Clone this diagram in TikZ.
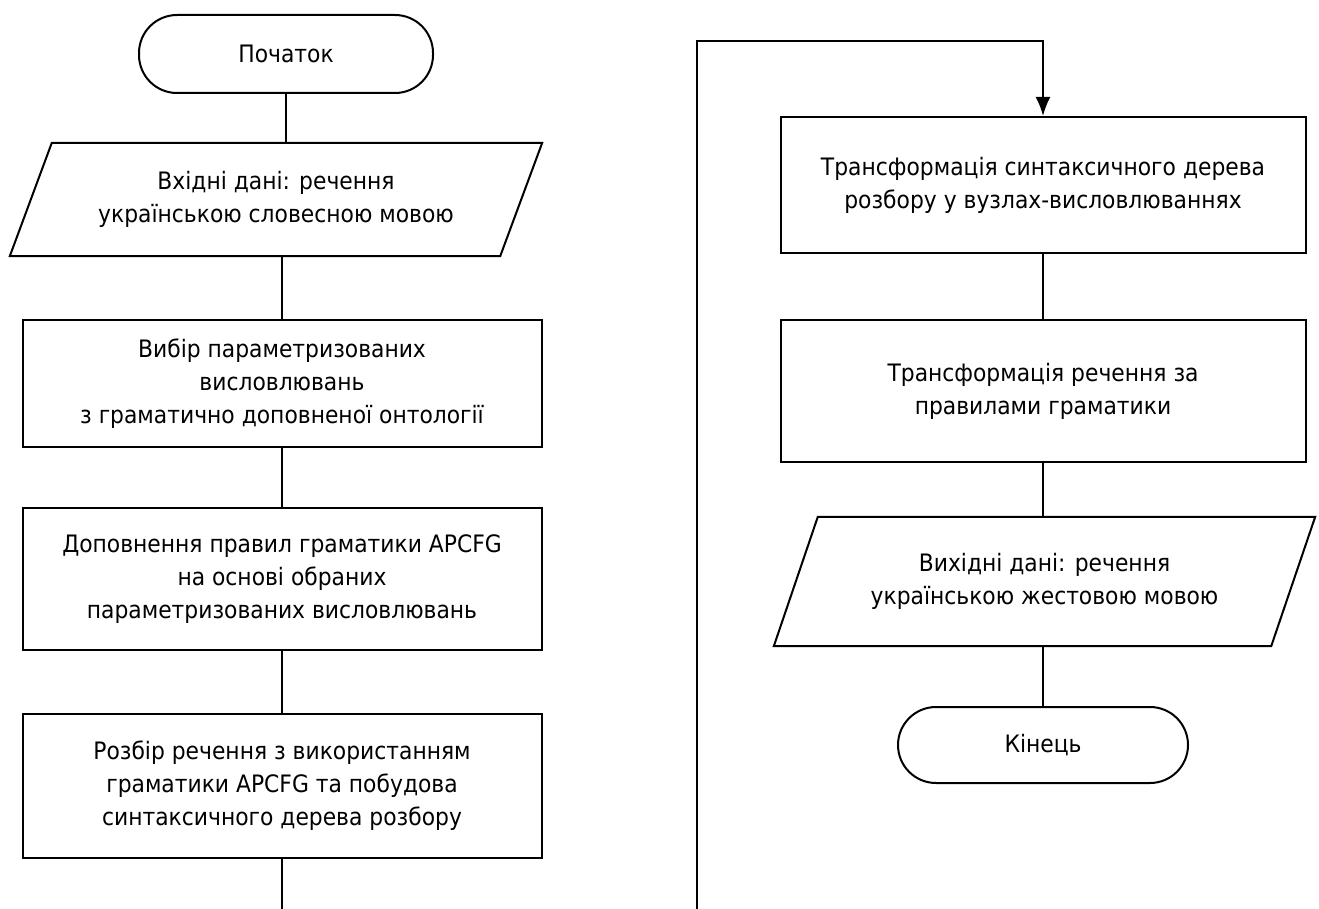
\documentclass[tikz,border=0pt]{standalone}
\usepackage{fontspec}
\setmainfont{DejaVu Sans}[FakeStretch=0.91]
\usetikzlibrary{calc,arrows.meta}
\begin{document}
\begin{tikzpicture}[x=1pt,y=-1pt,
  every node/.style={font=\fontsize{24}{33}\selectfont, align=center, inner sep=0pt},
  line/.style={line width=2pt},
  procbox/.style={draw, line width=2pt, minimum width=#1},
  procbox/.default=519pt,
  terminal/.style={draw, line width=2pt, rounded corners=38pt},
  iobox/.style={draw=none}
]
\useasboundingbox (0,0) rectangle (1319,909);

% left column
\node[terminal, minimum width=294pt, minimum height=78pt] (start) at (286,54) {Початок};
\node[iobox, minimum width=490pt, minimum height=113pt] (in) at (276,199.5)
  {Вхідні дані: речення\\українською словесною мовою};
\draw[line] ($(in.north west)+(21,0)$) -- ($(in.north east)+(21,0)$)
  -- ($(in.south east)+(-21,0)$) -- ($(in.south west)+(-21,0)$) -- cycle;
\node[procbox, minimum height=127pt] (p1) at (282,383.5)
  {Вибір параметризованих\\висловлювань\\з граматично доповненої онтології};
\node[procbox, minimum height=142pt] (p2) at (282,579)
  {Доповнення правил граматики APCFG\\на основі обраних\\параметризованих висловлювань};
\node[procbox, minimum height=144pt] (p3) at (282,786)
  {Розбір речення з використанням\\граматики APCFG та побудова\\синтаксичного дерева розбору};
\coordinate (lbot) at (282,909);

% right column
\node[procbox=525pt, minimum height=136pt] (p4) at (1043,185)
  {Трансформація синтаксичного дерева\\розбору у вузлах-висловлюваннях};
\node[procbox=525pt, minimum height=142pt] (p5) at (1043,391)
  {Трансформація речення за\\правилами граматики};
\node[iobox, minimum width=497pt, minimum height=129pt] (out) at (1044.5,581.5)
  {Вихідні дані: речення\\українською жестовою мовою};
\draw[line] ($(out.north west)+(22,0)$) -- ($(out.north east)+(22,0)$)
  -- ($(out.south east)+(-22,0)$) -- ($(out.south west)+(-22,0)$) -- cycle;
\node[terminal, minimum width=290pt, minimum height=76pt] (end) at (1043,745) {Кінець};
\coordinate (rbot) at (697,909);
\coordinate (rtop) at (697,41);

% connectors
\draw[line] (start.south) -- (start.south |- in.north);
\draw[line] (p1.north |- in.south) -- (p1.north);
\draw[line] (p1.south) -- (p2.north);
\draw[line] (p2.south) -- (p3.north);
\draw[line] (p3.south) -- (lbot);
\draw[line, -{Latex[length=19pt,width=15pt]}] (rbot) -- (rtop) -| (p4.north);
\draw[line] (p4.south) -- (p5.north);
\draw[line] (p5.south) -- (p5.south |- out.north);
\draw[line] (end.north |- out.south) -- (end.north);
\end{tikzpicture}
\end{document}
